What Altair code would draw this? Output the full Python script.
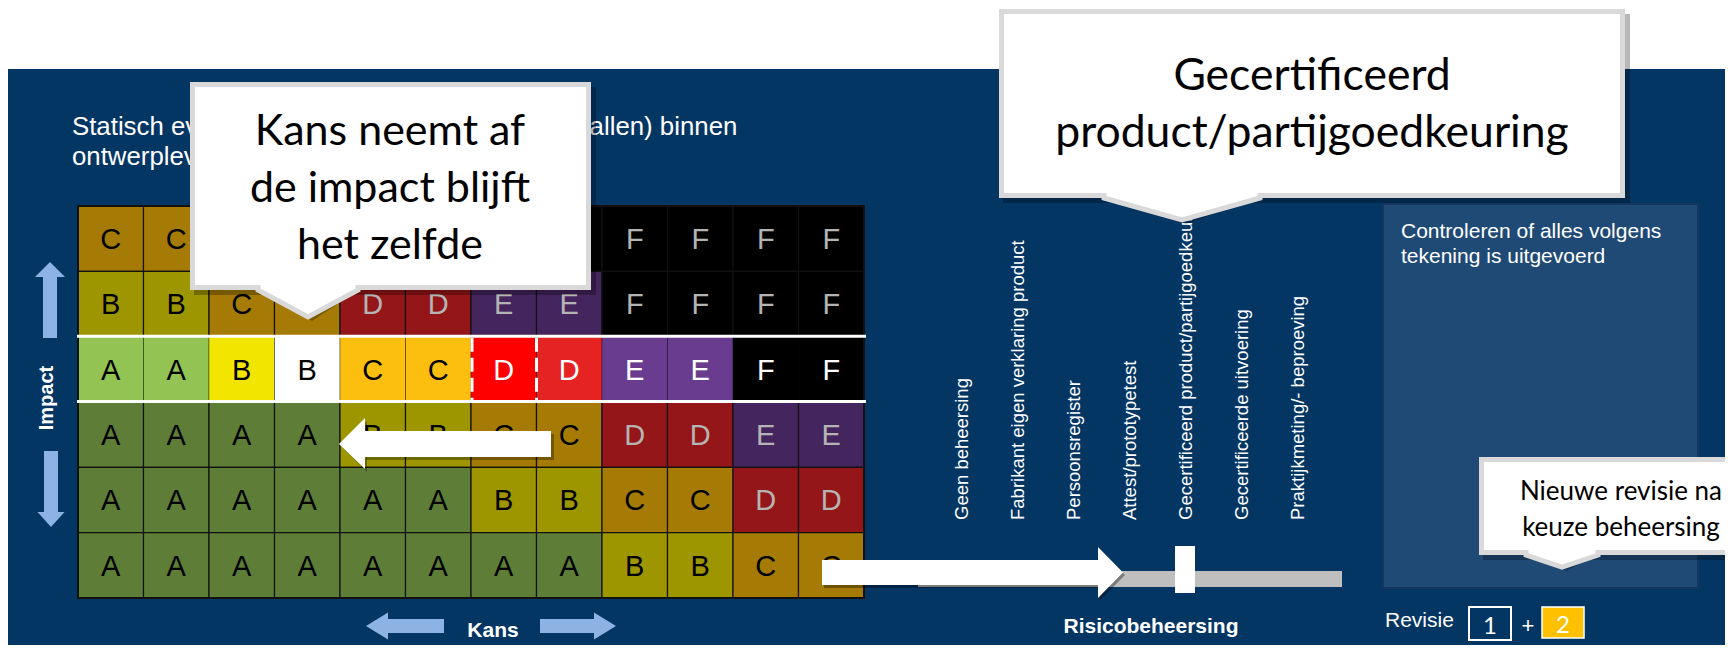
import altair as alt
import pandas as pd

# ---------------- data ----------------
risk_rows = [
    ["C", "C", "D", "D", "E", "E", "F", "F", "F", "F", "F", "F"],
    ["B", "B", "C", "C", "D", "D", "E", "E", "F", "F", "F", "F"],
    ["A", "A", "B", "B", "C", "C", "D", "D", "E", "E", "F", "F"],
    ["A", "A", "A", "A", "B", "B", "C", "C", "D", "D", "E", "E"],
    ["A", "A", "A", "A", "A", "A", "B", "B", "C", "C", "D", "D"],
    ["A", "A", "A", "A", "A", "A", "A", "A", "B", "B", "C", "C"],
]
highlight_row = 2
highlight_cell = 6
highlight_colors = ["#92C353", "#92C353", "#F2E500", "#FFFFFF", "#FDBF0F", "#FDBF0F",
                    "#FF0000", "#E52322", "#6A3C8F", "#6A3C8F", "#000000", "#000000"]
class_colors = {"A": "#5E7E37", "B": "#9E9600", "C": "#A67B05",
                "D": "#951618", "E": "#45255E", "F": "#000000"}
class_text_dim = {"A": "#000000", "B": "#000000", "C": "#000000",
                  "D": "#B4B4B4", "E": "#B4B4B4", "F": "#B4B4B4"}
class_text_hi = {"A": "#000000", "B": "#000000", "C": "#000000",
                 "D": "#FFFFFF", "E": "#FFFFFF", "F": "#FFFFFF"}

measures = ["Geen beheersing", "Fabrikant eigen verklaring product", "Persoonsregister",
            "Attest/prototypetest", "Gecertificeerd product/partijgoedkeuring",
            "Gecertificeerde uitvoering", "Praktijkmeting/- beproeving"]
selected_measure = 4

subtitle_lines = ["Statisch evenwicht (bezwijken, kantelen, omvallen) binnen", "ontwerplevensduur"]
callout1_lines = ["Kans neemt af", "de impact blijft", "het zelfde"]
callout2_lines = ["Gecertificeerd", "product/partijgoedkeuring"]
callout3_lines = ["Nieuwe revisie na", "keuze beheersing"]
panel_lines = ["Controleren of alles volgens", "tekening is uitgevoerd"]
axis_impact = "Impact"
axis_kans = "Kans"
axis_risk = "Risicobeheersing"
revision_label = "Revisie"
revisions = ["1", "2"]

# ---------------- layout ----------------
W, H = 1717, 637
OX, OY = 8, 8
BG = "#043664"
PANEL = "#1F4A75"
ARROW_BLUE = "#8DB3E2"
CALLOUT_BORDER = "#D9D9D9"
SANS = "Liberation Sans"
CAL = "Lato"

GX0, GY0 = 78.0, 206.0
CW, RH = 65.5, 65.33
NCOL, NROW = 12, 6

# callout 1 box (covers part of the matrix and subtitle)
C1 = (190, 591, 82, 290)

XS = alt.Scale(domain=[OX, OX + W], nice=False, zero=False)
YS = alt.Scale(domain=[OY, OY + H], nice=False, zero=False, reverse=True)


def xq(f="x"):
    return alt.X(f"{f}:Q", scale=XS, axis=None)


def yq(f="y"):
    return alt.Y(f"{f}:Q", scale=YS, axis=None)


def rects(rows, **kw):
    df = pd.DataFrame(rows, columns=["x", "x2", "y", "y2"])
    return alt.Chart(df).mark_rect(**kw).encode(x=xq(), x2="x2:Q", y=yq(), y2="y2:Q")


def texts(rows, **kw):
    df = pd.DataFrame(rows, columns=["x", "y", "t"])
    return alt.Chart(df).mark_text(**kw).encode(x=xq(), y=yq(), text="t:N")


def symbol(x, y, path, **kw):
    kw.setdefault("opacity", 1)
    df = pd.DataFrame({"x": [x], "y": [y]})
    return alt.Chart(df).mark_point(shape=path, size=4, **kw).encode(x=xq(), y=yq())


def hrules(rows, **kw):
    df = pd.DataFrame(rows, columns=["x", "x2", "y"])
    return alt.Chart(df).mark_rule(**kw).encode(x=xq(), x2="x2:Q", y=yq())


def vrules(rows, **kw):
    df = pd.DataFrame(rows, columns=["x", "y", "y2"])
    return alt.Chart(df).mark_rule(**kw).encode(x=xq(), y=yq(), y2="y2:Q")


layers = []

# background
layers.append(rects([[OX, OX + W + 20, 69, OY + H + 20]], color=BG))

# subtitle
layers.append(texts([[72, 135, subtitle_lines[0]], [72, 165, subtitle_lines[1]]],
                    font=SANS, fontSize=25.8, color="white", align="left", baseline="alphabetic"))

# ---- risk matrix cells ----
cells = []
for r, row in enumerate(risk_rows):
    for c, letter in enumerate(row):
        hi = r == highlight_row
        xc = GX0 + (c + 0.5) * CW
        yc = GY0 + (r + 0.5) * RH
        covered = (C1[0] < xc < C1[1]) and (C1[2] < yc < C1[3])
        cells.append({
            "x": GX0 + c * CW, "x2": GX0 + (c + 1) * CW,
            "y": GY0 + r * RH, "y2": GY0 + (r + 1) * RH,
            "xc": xc, "yb": yc + 10.5,
            "t": letter,
            "fill": highlight_colors[c] if hi else class_colors[letter],
            "tc": class_text_hi[letter] if hi else class_text_dim[letter],
            "hi": hi, "covered": covered,
        })
cdf = pd.DataFrame(cells)
dim = cdf[~cdf["hi"]]
hil = cdf[cdf["hi"]]
layers.append(alt.Chart(dim).mark_rect(stroke="#111111", strokeWidth=1.2).encode(
    x=xq(), x2="x2:Q", y=yq(), y2="y2:Q", color=alt.Color("fill:N", scale=None)))
layers.append(alt.Chart(hil).mark_rect(stroke="#000000", strokeWidth=1, strokeOpacity=0.35).encode(
    x=xq(), x2="x2:Q", y=yq(), y2="y2:Q", color=alt.Color("fill:N", scale=None)))
layers.append(alt.Chart(cdf[~cdf["covered"]]).mark_text(font=SANS, fontSize=29, baseline="alphabetic",
                                                        align="center").encode(
    x=xq("xc"), y=yq("yb"), text="t:N", color=alt.Color("tc:N", scale=None)))
# outer border
layers.append(rects([[GX0, GX0 + NCOL * CW, GY0, GY0 + NROW * RH]],
                    filled=False, stroke="#111111", strokeWidth=2))
# highlighted row lines
hy1 = GY0 + highlight_row * RH
hy2 = GY0 + (highlight_row + 1) * RH
layers.append(hrules([[GX0 - 1, GX0 + NCOL * CW + 2, hy1 - 0.5], [GX0 - 1, GX0 + NCOL * CW + 2, hy2 - 0.5]],
                     color="white", strokeWidth=3))
dx1 = GX0 + highlight_cell * CW
dx2 = GX0 + (highlight_cell + 1) * CW
layers.append(vrules([[dx1 + 1, hy1 + 1, hy2 - 1], [dx2, hy1 + 1, hy2 - 1]],
                     color="white", strokeWidth=3, strokeDash=[14, 6]))

# ---- Impact arrows ----
layers.append(rects([[43, 57, 275, 338], [44, 58, 451, 514]], color=ARROW_BLUE))
layers.append(symbol(50, 262, "M 0 0 L 15 15 L -15 15 Z", filled=True, color=ARROW_BLUE, strokeWidth=0))
layers.append(symbol(51, 527, "M 0 0 L 13.5 -15 L -13.5 -15 Z", filled=True, color=ARROW_BLUE, strokeWidth=0))
layers.append(texts([[47, 398, axis_impact]], font=SANS, fontSize=20, fontWeight="bold", color="white",
                    angle=270, align="center", baseline="middle"))

# ---- Kans arrows ----
layers.append(rects([[387, 444, 619, 633], [540, 595, 619, 633]], color=ARROW_BLUE))
layers.append(symbol(366, 626, "M 0 0 L 22 -13.5 L 22 13.5 Z", filled=True, color=ARROW_BLUE, strokeWidth=0))
layers.append(symbol(616, 626, "M 0 0 L -22 -13.5 L -22 13.5 Z", filled=True, color=ARROW_BLUE, strokeWidth=0))
layers.append(texts([[493, 637, axis_kans]], font=SANS, fontSize=21, fontWeight="bold", color="white",
                    align="center", baseline="alphabetic"))

# ---- white arrow inside matrix (kans neemt af) ----
layers.append(rects([[366, 554, 434, 460]], color="black", opacity=0.3))
layers.append(symbol(342, 447, "M 0 0 L 25 -26 L 25 25 Z", filled=True, color="black", opacity=0.3, strokeWidth=0))
layers.append(rects([[362, 551, 431, 457]], color="white"))
layers.append(symbol(339, 444, "M 0 0 L 26 -26 L 26 25 Z", filled=True, color="white", strokeWidth=0))

# ---- risk control measures ----
lab_x = [962 + i * 56 for i in range(len(measures))]
layers.append(texts([[lab_x[i], 520, m] for i, m in enumerate(measures)],
                    font=SANS, fontSize=18.5, color="white", angle=270, align="left", baseline="middle"))
layers.append(rects([[918, 1342, 571, 587]], color="#BFBFBF"))
mx = lab_x[selected_measure]
layers.append(rects([[mx - 11, mx + 9, 546, 593]], color="white"))
# big arrow to the measure scale
layers.append(rects([[824, 1100, 563, 588]], color="black", opacity=0.35))
layers.append(symbol(1125, 575, "M 0 0 L -25 -25.5 L -25 25.5 Z", filled=True, color="black", opacity=0.35, strokeWidth=0))
layers.append(rects([[822, 1099, 560, 585]], color="white"))
layers.append(symbol(1123, 572.5, "M 0 0 L -25 -25.5 L -25 25.5 Z", filled=True, color="white", strokeWidth=0))
layers.append(texts([[1151, 633, axis_risk]], font=SANS, fontSize=21, fontWeight="bold", color="white",
                    align="center", baseline="alphabetic"))

# ---- right panel ----
layers.append(rects([[1383, 1698, 204, 588]], color=PANEL, stroke="#12365F", strokeWidth=2))
layers.append(texts([[1401, 238, panel_lines[0]], [1401, 263, panel_lines[1]]],
                    font=SANS, fontSize=21, color="white", align="left", baseline="alphabetic"))

# ---- revisions ----
layers.append(texts([[1385, 627, revision_label]], font=SANS, fontSize=21, color="white",
                    align="left", baseline="alphabetic"))
layers.append(rects([[1469, 1511, 607, 640]], filled=False, stroke="white", strokeWidth=2))
layers.append(rects([[1542, 1584, 607, 638]], color="#FFC000", stroke="white", strokeWidth=1.5))
layers.append(texts([[1490, 634, revisions[0]], [1563, 633, revisions[1]]], font=CAL, fontSize=24,
                    color="white", align="center", baseline="alphabetic"))
layers.append(texts([[1528, 633, "+"]], font=SANS, fontSize=22, color="white", align="center",
                    baseline="alphabetic"))


# ---- callouts ----
def callout(x1, x2, y1, y2, px, half, depth):
    out = []
    out.append(rects([[x1 + 4, x2 + 5, y1 + 5, y2 + 5]], color="black", opacity=0.28))
    out.append(symbol(px + 4, y2 + 4, f"M -{half} -6 L 0 {depth} L {half} -6 Z",
                      filled=True, color="black", opacity=0.28, strokeWidth=0))
    out.append(rects([[x1 + 2.5, x2 - 2.5, y1 + 2.5, y2 - 2.5]], color="white",
                     stroke=CALLOUT_BORDER, strokeWidth=5))
    out.append(symbol(px, y2, f"M -{half} -5 L -{half} 0 L 0 {depth} L {half} 0 L {half} -5",
                      filled=True, fill="white", stroke=CALLOUT_BORDER, strokeWidth=5))
    return out


layers += callout(C1[0], C1[1], C1[2], C1[3], 308, 50, 27)
layers.append(texts([[390, 145 + 57 * i, t] for i, t in enumerate(callout1_lines)],
                    font=CAL, fontSize=43, color="black", align="center", baseline="alphabetic"))
layers += callout(999, 1625, 9, 198, 1182, 78, 22)
layers.append(texts([[1312, 90 + 57 * i, t] for i, t in enumerate(callout2_lines)],
                    font=CAL, fontSize=44.5, color="black", align="center", baseline="alphabetic"))
layers += callout(1479, 1770, 457, 555, 1562, 36, 12)
layers.append(texts([[1621, 500 + 36 * i, t] for i, t in enumerate(callout3_lines)],
                    font=CAL, fontSize=26, color="black", align="center", baseline="alphabetic"))

chart = alt.layer(*layers).properties(
    width=W, height=H,
    autosize=alt.AutoSizeParams(type="none"),
    padding=0,
).configure(background="white", view=alt.ViewConfig(stroke=None))

chart.save("out.html", embed_options={"renderer": "svg", "actions": False})
